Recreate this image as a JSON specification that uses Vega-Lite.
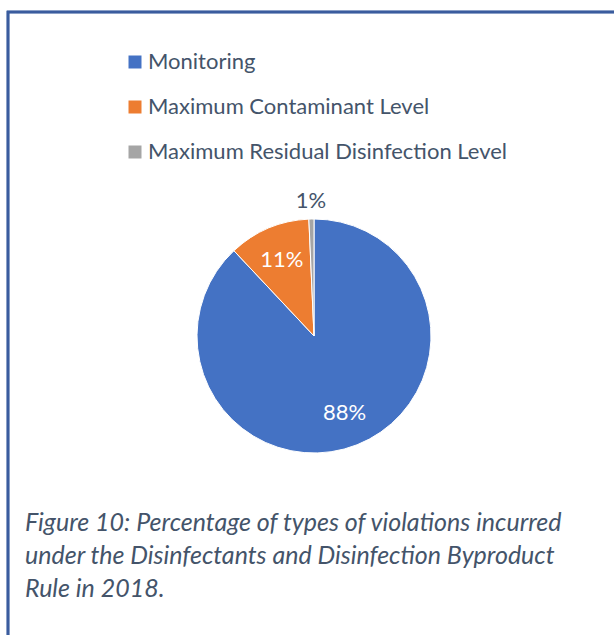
{
  "$schema": "https://vega.github.io/schema/vega-lite/v6.json",
  "width": 612,
  "height": 648,
  "autosize": {"type": "none"},
  "padding": {"left": 8, "top": 12, "right": 0, "bottom": 0},
  "background": "white",
  "config": {
    "view": {"stroke": null},
    "font": "Lato"
  },
  "title": {
    "text": [
      "Figure 10: Percentage of types of violations incurred",
      "under the Disinfectants and Disinfection Byproduct",
      "Rule in 2018."
    ],
    "orient": "bottom",
    "anchor": "start",
    "frame": "group",
    "offset": -130,
    "baseline": "alphabetic",
    "lineHeight": 33,
    "fontSize": 25,
    "fontStyle": "italic",
    "fontWeight": "normal",
    "color": "#44546A",
    "font": "Lato",
    "dx": 17
  },
  "data": {
    "values": [
      {"type": "Monitoring", "pct": 88.0, "label": "88%"},
      {"type": "Maximum Contaminant Level", "pct": 11.3, "label": "11%"},
      {"type": "Maximum Residual Disinfection Level", "pct": 0.7, "label": "1%"}
    ]
  },
  "layer": [
    {
      "mark": {"type": "rect", "fill": "transparent", "stroke": "#3A5C9E", "strokeWidth": 2.5},
      "encoding": {}
    },
    {
      "mark": {"type": "arc", "outerRadius": 117, "stroke": "#ffffff", "strokeWidth": 1},
      "encoding": {
        "theta": {"field": "pct", "type": "quantitative", "stack": true},
        "order": {"field": "pct", "type": "quantitative", "sort": "descending"},
        "color": {
          "field": "type",
          "type": "nominal",
          "scale": {
            "domain": ["Monitoring", "Maximum Contaminant Level", "Maximum Residual Disinfection Level"],
            "range": ["#4472C4", "#ED7D31", "#A5A5A5"]
          },
          "legend": {
            "orient": "none",
            "legendX": 116,
            "legendY": 39,
            "title": null,
            "symbolType": "square",
            "symbolSize": 169,
            "symbolStrokeWidth": 0,
            "labelFontSize": 22,
            "labelFont": "Lato",
            "labelColor": "#44546A",
            "labelLimit": 500,
            "rowPadding": 23,
            "labelOffset": 2
          }
        }
      }
    },
    {
      "mark": {"type": "text", "radius": 83, "fontSize": 22, "color": "#ffffff", "font": "Lato"},
      "encoding": {
        "theta": {"field": "pct", "type": "quantitative", "stack": true},
        "order": {"field": "pct", "type": "quantitative", "sort": "descending"},
        "text": {"condition": {"test": "datum.pct >= 5", "field": "label"}, "value": ""}
      }
    },
    {
      "mark": {"type": "text", "radius": 135, "fontSize": 22, "color": "#44546A", "font": "Lato"},
      "encoding": {
        "theta": {"field": "pct", "type": "quantitative", "stack": true},
        "order": {"field": "pct", "type": "quantitative", "sort": "descending"},
        "text": {"condition": {"test": "datum.pct < 5", "field": "label"}, "value": ""}
      }
    }
  ]
}
